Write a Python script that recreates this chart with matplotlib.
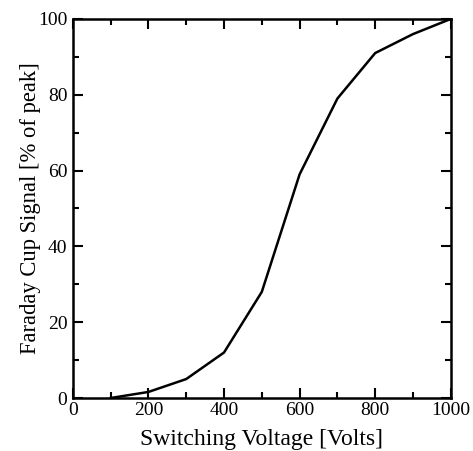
import matplotlib
matplotlib.use("Agg")
import matplotlib.pyplot as plt
from matplotlib.ticker import MultipleLocator

# Wartosci
napiecie = [100, 200, 300, 400, 500, 600, 700, 800, 900, 1000]
sygnal = [0, 1.6, 5, 12, 28, 59, 79, 91, 96, 100]

plt.rcParams['font.family'] = ['Liberation Serif', 'DejaVu Serif']

fig = plt.figure(figsize=(4.73, 4.51), dpi=100)
ax = fig.add_axes([0.154, 0.1175, 0.799, 0.8405])

ax.plot(napiecie, sygnal, color='black', linewidth=1.8)

ax.set_xlim(0, 1000)
ax.set_ylim(0, 100)
ax.xaxis.set_major_locator(MultipleLocator(200))
ax.xaxis.set_minor_locator(MultipleLocator(100))
ax.yaxis.set_major_locator(MultipleLocator(20))
ax.yaxis.set_minor_locator(MultipleLocator(10))

ax.tick_params(which='both', direction='in', top=True, right=True,
               width=1.5, labelsize=14, pad=3)
ax.tick_params(axis='y', pad=4)
ax.tick_params(which='major', length=7)
ax.tick_params(which='minor', length=4)
for s in ax.spines.values():
    s.set_linewidth(1.8)

ax.set_xlabel("Switching Voltage [Volts]", fontsize=17, labelpad=7)
ax.set_ylabel("Faraday Cup Signal [% of peak]", fontsize=16.3, labelpad=-2)

fig.savefig("out.png", dpi=100)
